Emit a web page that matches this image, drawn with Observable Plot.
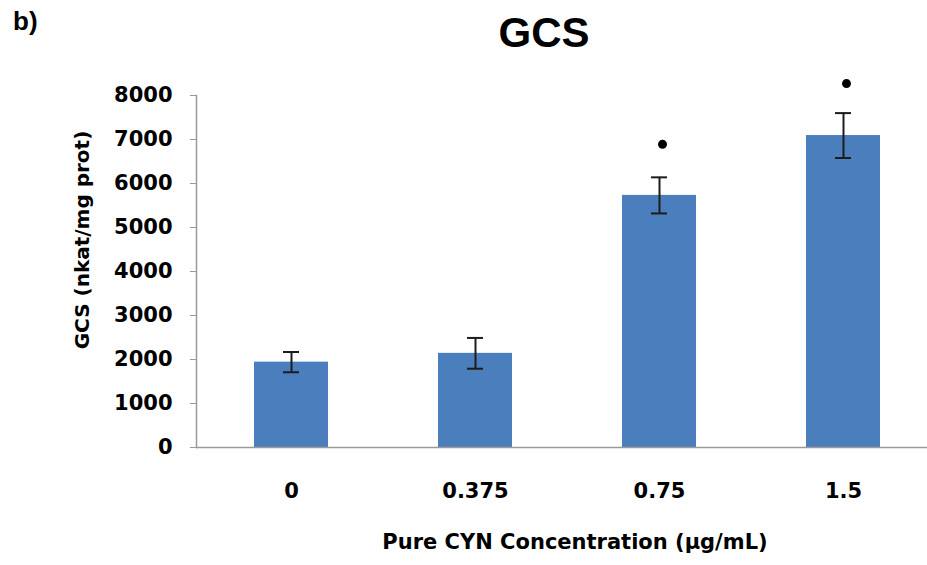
<!DOCTYPE html>
<html>
<head>
<meta charset="utf-8">
<script src="https://cdn.jsdelivr.net/npm/d3@7"></script>
<script src="https://cdn.jsdelivr.net/npm/@observablehq/plot@0.6"></script>
<style>
  html, body { margin: 0; padding: 0; background: #fff; }
  #wrap { position: relative; width: 927px; height: 565px; overflow: hidden; background: #fff; }
  #panel { position: absolute; left: 13px; top: 8px; font: bold 26px/26px "Liberation Sans", sans-serif; color: #000; }
  #title { position: absolute; left: 544px; top: 12px; transform: translateX(-50%); font: bold 42px/42px "Liberation Sans", sans-serif; color: #000; white-space: nowrap; }
  #ytitle { position: absolute; left: 82px; top: 240px; transform: translate(-50%, -50%) rotate(-90deg); font: bold 20px/20px "DejaVu Sans", sans-serif; color: #000; white-space: nowrap; }
  #chart { position: absolute; left: 0; top: 0; }
</style>
</head>
<body>
<div id="wrap">
  <div id="chart"></div>
  <div id="panel">b)</div>
  <div id="title">GCS</div>
  <div id="ytitle"></div>
</div>
<script>
const categories = ["0", "0.375", "0.75", "1.5"];
const means = [1940, 2140, 5730, 7090];
const errors = [230, 350, 410, 510];
const starValues = [null, null, 6890, 8270];
const yTicks = [0, 1000, 2000, 3000, 4000, 5000, 6000, 7000, 8000];
const xTitle = "Pure CYN Concentration (µg/mL)";
const yTitle = "GCS (nkat/mg prot)";

document.getElementById("ytitle").textContent = yTitle;

const data = categories.map((c, i) => ({c, mean: means[i], err: errors[i], star: starValues[i]}));
const stars = data.filter(d => d.star != null);

const chart = Plot.plot({
  width: 927,
  height: 565,
  marginLeft: 196,
  marginRight: 0,
  marginTop: 95,
  marginBottom: 118,
  style: {fontFamily: "DejaVu Sans", fontWeight: "bold", fontSize: "21px", color: "#000", background: "transparent", overflow: "visible"},
  x: {domain: categories, range: [197, 936], paddingInner: 0.6, paddingOuter: 0.3, label: null},
  y: {domain: [0, 8000], label: null},
  marks: [
    Plot.barY(data, {x: "c", y: "mean", fill: "#4a7ebd"}),
    Plot.ruleX(data, {x: "c", y1: d => d.mean - d.err, y2: d => d.mean + d.err, stroke: "#1c1c1c", strokeWidth: 2}),
    Plot.tickY(data, {x: "c", y: d => d.mean + d.err, insetLeft: 29, insetRight: 29, stroke: "#1c1c1c", strokeWidth: 2}),
    Plot.tickY(data, {x: "c", y: d => d.mean - d.err, insetLeft: 29, insetRight: 29, stroke: "#1c1c1c", strokeWidth: 2}),
    Plot.dot(stars, {x: "c", y: "star", r: 4.5, fill: "#000", stroke: "none", dx: 3}),
    Plot.ruleY([0], {stroke: "#9a9a9a", strokeWidth: 1.5}),
    Plot.frame({anchor: "left", stroke: "#9a9a9a", strokeWidth: 1.5}),
    Plot.axisY({ticks: yTicks, tickSize: 6, tickPadding: 18, tickFormat: d => String(d), label: null, stroke: "#9a9a9a", fill: "#000", fontSize: 21}),
    Plot.axisX({tickSize: 0, tickPadding: 36, label: null, fill: "#000", fontSize: 21}),
    Plot.text([xTitle], {frameAnchor: "bottom", dx: 13, dy: 101, fontSize: 21, fontWeight: "bold", fill: "#000"})
  ]
});
document.getElementById("chart").appendChild(chart);
</script>
</body>
</html>
